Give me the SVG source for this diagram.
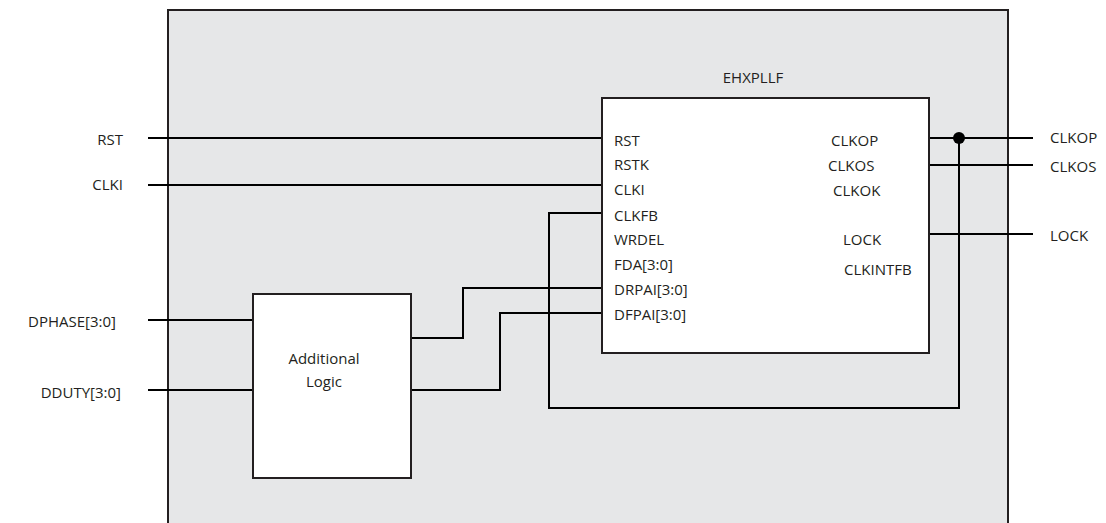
<svg xmlns="http://www.w3.org/2000/svg" width="1106" height="523" viewBox="0 0 1106 523">
<style>
text{font-family:"Open Sans","Liberation Sans",sans-serif;font-size:15px;fill:#231f20}
.box{fill:#fff;stroke:#231f20;stroke-width:2}
.w{fill:none;stroke:#000;stroke-width:2}
.e{text-anchor:end}
.m{text-anchor:middle}
</style>
<rect x="0" y="0" width="1106" height="523" fill="#fff"/>
<g id="bg">
<rect x="168" y="10" width="840" height="530" fill="#e6e7e8" stroke="#231f20" stroke-width="2"/>
</g>
<g id="connectors">
<path class="w" d="M148 138H602"/>
<path class="w" d="M148 185H602"/>
<path class="w" d="M148 320H253"/>
<path class="w" d="M148 390H253"/>
<path class="w" d="M411 338H463V288H602"/>
<path class="w" d="M411 390H500V313H602"/>
<path class="w" d="M602 213H549V408H959V138"/>
<path class="w" d="M929 138H1033"/>
<path class="w" d="M929 165H1033"/>
<path class="w" d="M929 234H1033"/>
<circle cx="959" cy="138" r="6" fill="#000"/>
</g>
<g id="pll">
<rect class="box" x="602" y="98" width="327" height="255"/>
<text class="m" x="753" y="83">EHXPLLF</text>
<text x="614" y="146">RST</text>
<text x="614" y="170">RSTK</text>
<text x="614" y="195">CLKI</text>
<text x="614" y="221">CLKFB</text>
<text x="614" y="245">WRDEL</text>
<text x="614" y="270">FDA[3:0]</text>
<text x="614" y="295">DRPAI[3:0]</text>
<text x="614" y="320">DFPAI[3:0]</text>
<text x="831" y="146">CLKOP</text>
<text x="828" y="171">CLKOS</text>
<text x="833" y="196">CLKOK</text>
<text x="843" y="245">LOCK</text>
<text x="844" y="275">CLKINTFB</text>
</g>
<g id="logic">
<rect class="box" x="253" y="294" width="158" height="184"/>
<text class="m" x="324" y="364">Additional</text>
<text class="m" x="324" y="387">Logic</text>
</g>
<g id="inputs">
<text class="e" x="123" y="145">RST</text>
<text class="e" x="123" y="190">CLKI</text>
<text class="e" x="116" y="327">DPHASE[3:0]</text>
<text class="e" x="121" y="398">DDUTY[3:0]</text>
</g>
<g id="outputs">
<text x="1050" y="143">CLKOP</text>
<text x="1050" y="172">CLKOS</text>
<text x="1050" y="241">LOCK</text>
</g>
</svg>
